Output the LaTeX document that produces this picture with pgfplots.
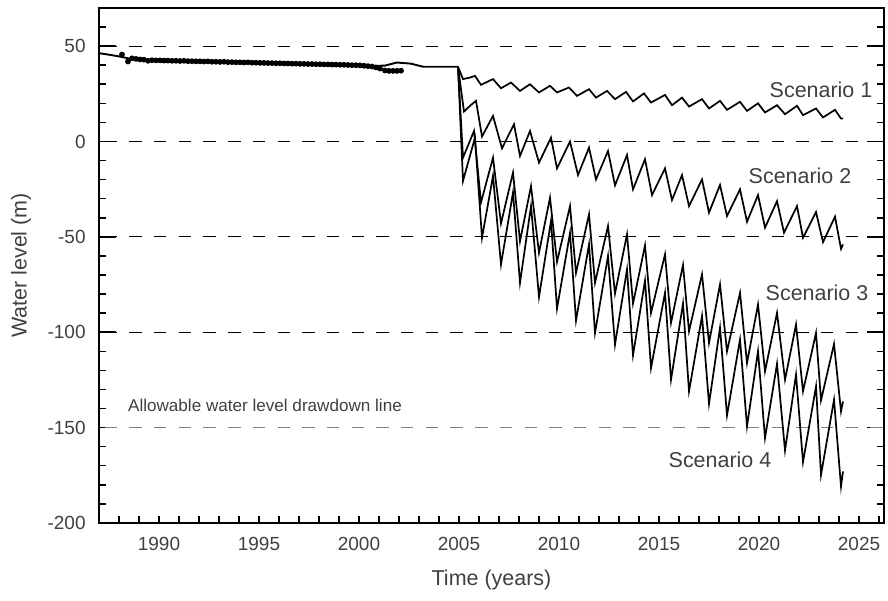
\documentclass[border=0pt]{standalone}
\usepackage{fontspec}
\setmainfont{Liberation Sans}
\usepackage{pgfplots}
\pgfplotsset{compat=1.18}
\definecolor{txt}{gray}{0.25}
\begin{document}
\begin{tikzpicture}
\begin{axis}[name=ax, scale only axis, width=413.2pt, height=271.05pt,
  xmin=1987, xmax=2026.25, ymin=-200, ymax=70,
  axis line style={line width=1pt},
  xtick={1990,1995,...,2025}, minor xtick={1987,...,2026},
  xtick style={/pgfplots/major tick length=3.7pt},
  xtick pos=bottom, ytick pos=both,
  ytick={-200,-150,...,50}, minor ytick={-190,-180,...,60},
  major tick length=9pt, minor tick length=3.7pt,
  every tick/.style={black, line width=0.8pt},
  tick align=inside,
  /pgf/number format/assume math mode=true,
  /pgf/number format/set thousands separator={},
  ticklabel style={font=\fontsize{10}{12}\selectfont, text=txt},
  yticklabel style={xshift=-3.5pt},
  xticklabel style={yshift=-4pt},
  xlabel={Time (years)}, ylabel={Water level (m)},
  label style={font=\fontsize{11.3}{13}\selectfont, text=txt},
  xlabel style={at={(axis description cs:0.5,-0.1107)}, anchor=center},
  ylabel style={at={(axis description cs:-0.0993,0.5)}, anchor=center},
  clip=false,
]
% dashed reference lines
\pgfplotsset{refline/.style={line width=0.6pt, dash pattern=on 6.5pt off 6.5pt, dash phase=10pt, forget plot}}
\addplot[black, refline] coordinates {(1987,50)(2026.25,50)};
\addplot[black, refline] coordinates {(1987,0)(2026.25,0)};
\addplot[black, refline] coordinates {(1987,-50)(2026.25,-50)};
\addplot[black, refline] coordinates {(1987,-100)(2026.25,-100)};
\addplot[gray, refline] coordinates {(1987,-150)(2026.25,-150)};
% historical simulated line
\addplot[black, line width=1pt] coordinates {
(1987,46.3)(1987.5,45.5)(1988,44.6)(1988.5,43.5)(1989,43)(1990,42.6)(1991,42.4)(1992,42.1)
(1993,41.8)(1994,41.5)(1995,41.2)(1996,41)(1997,40.7)(1998,40.5)(1999,40.2)(2000,40)
(2000.8,39.6)(2001.3,39.8)(2001.9,41.4)(2002.6,40.8)(2003.2,39.2)(2004.95,39.2)};
% observed
\addplot[only marks, mark=*, mark size=1.3pt, black] coordinates {
(1988.15,45.6)(1988.45,41.9)(1988.65,43.6)(1988.85,43.3)(1989.05,43.0)(1989.25,42.9)(1989.45,42.3)
(1989.65,42.6)(1989.85,42.5)(1990.05,42.5)(1990.25,42.4)(1990.45,42.4)(1990.65,42.3)(1990.85,42.3)
(1991.05,42.2)(1991.25,42.3)(1991.45,42.1)(1991.65,42.1)(1991.85,42.0)(1992.05,42.0)(1992.25,41.9)
(1992.45,42.0)(1992.65,41.8)(1992.85,41.8)(1993.05,41.7)(1993.25,41.8)(1993.45,41.6)(1993.65,41.6)
(1993.85,41.5)(1994.05,41.5)(1994.25,41.4)(1994.45,41.5)(1994.65,41.3)(1994.85,41.3)(1995.05,41.2)
(1995.25,41.2)(1995.45,41.1)(1995.65,41.1)(1995.85,41.0)(1996.05,41.0)(1996.25,40.9)(1996.45,40.9)
(1996.65,40.8)(1996.85,40.8)(1997.05,40.7)(1997.25,40.7)(1997.45,40.6)(1997.65,40.6)(1997.85,40.5)
(1998.05,40.5)(1998.25,40.4)(1998.45,40.4)(1998.65,40.3)(1998.85,40.3)(1999.05,40.2)(1999.25,40.2)
(1999.45,40.1)(1999.65,40.0)(1999.85,40.0)(2000.05,39.9)(2000.25,39.7)(2000.45,39.5)(2000.65,39.3)
(2000.85,38.8)(2001.05,38.2)(2001.3,37.2)(2001.5,37.0)(2001.7,37.0)(2001.9,37.0)(2002.1,37.1)};
% Scenario 1
\addplot[black, line width=0.9pt] coordinates {
(2004.95,39.2)(2005.2,32.7)(2005.55,33.5)(2005.8,34.4)(2006.1,29.7)(2006.7,32.7)(2007.1,27.9)
(2007.6,30.9)(2008.05,26.5)(2008.55,30)(2009,25.7)(2009.55,29.2)(2009.9,25.7)(2010.5,28.3)
(2010.9,23.9)(2011.5,27.4)(2011.85,23)(2012.4,26.5)(2012.8,22.2)(2013.35,26)(2013.7,21)
(2014.25,25.2)(2014.6,20.4)(2015.3,24.4)(2015.65,19)(2016.15,23)(2016.5,18.3)(2017.15,22.2)
(2017.5,17.3)(2018.05,21.3)(2018.4,16.6)(2019.05,20.8)(2019.4,16)(2019.95,20)(2020.3,15.2)
(2020.9,19)(2021.3,14.3)(2021.9,18.7)(2022.2,13.8)(2022.85,17.3)(2023.2,12.6)(2023.8,16.6)
(2024.1,12)(2024.2,12)};
% Scenario 2
\addplot[black, line width=0.9pt] coordinates {
(2004.95,39.2)(2005.25,15.7)(2005.55,18.7)(2005.85,21.3)(2006.15,2.6)(2006.7,13.4)(2007.15,-3.6)
(2007.75,9)(2008.05,-7.6)(2008.55,5.5)(2009,-11.1)(2009.6,2)(2009.9,-14.1)(2010.55,0)
(2010.95,-17.6)(2011.5,-3.2)(2011.85,-19.9)(2012.45,-5)(2012.8,-23)(2013.4,-7.1)(2013.7,-25.1)
(2014.3,-9.3)(2014.65,-28.1)(2015.3,-14.1)(2015.65,-30.7)(2016.15,-17.6)(2016.5,-33.9)
(2017.15,-19.9)(2017.5,-37.3)(2018.05,-22.8)(2018.4,-39.1)(2019.05,-25.1)(2019.4,-42.1)
(2019.95,-28.1)(2020.3,-45.2)(2020.9,-31.3)(2021.25,-47.8)(2021.9,-33.9)(2022.2,-50.5)
(2022.85,-37)(2023.2,-52.8)(2023.8,-39.4)(2024.1,-56.3)(2024.2,-54)};
% Scenario 3
\addplot[black, line width=0.9pt] coordinates {
(2004.95,39.2)(2005.2,-8.5)(2005.75,5.5)(2006.1,-32)(2006.7,-8.5)(2007.1,-43)(2007.7,-16.3)
(2008.05,-52.3)(2008.6,-23.4)(2009,-58.4)(2009.55,-29.5)(2009.9,-63.1)(2010.55,-33.9)
(2010.85,-68.9)(2011.5,-38.2)(2011.8,-74.1)(2012.45,-44.4)(2012.8,-79.7)(2013.4,-48.7)
(2013.7,-85)(2014.3,-54.5)(2014.6,-89.9)(2015.3,-59.2)(2015.6,-95.1)(2016.2,-64.8)
(2016.5,-99.5)(2017.15,-69.7)(2017.5,-105.6)(2018.05,-75)(2018.4,-110)(2019.05,-79.4)
(2019.4,-116.1)(2019.95,-85.5)(2020.3,-120.5)(2020.9,-89.9)(2021.3,-124.9)(2021.85,-96)
(2022.2,-131)(2022.85,-100.4)(2023.1,-135.7)(2023.75,-106.2)(2024.1,-141.5)(2024.2,-136.3)};
% Scenario 4
\addplot[black, line width=0.9pt] coordinates {
(2004.95,39.2)(2005.2,-20.7)(2005.8,2)(2006.15,-50.5)(2006.7,-18.1)(2007.1,-64.5)(2007.7,-26.8)
(2008.05,-74.1)(2008.6,-33.9)(2009,-81.5)(2009.6,-41.7)(2009.9,-87.6)(2010.55,-48)
(2010.85,-93.9)(2011.5,-54)(2011.8,-100.4)(2012.45,-60.1)(2012.8,-106.5)(2013.4,-67.1)
(2013.7,-112.1)(2014.3,-73)(2014.6,-118.8)(2015.3,-79.4)(2015.6,-124.9)(2016.2,-85)
(2016.5,-131)(2017.15,-91.6)(2017.5,-137.5)(2018.05,-97.7)(2018.4,-143.6)(2019.05,-103.9)
(2019.4,-149.4)(2019.95,-110)(2020.3,-155.5)(2020.9,-116.6)(2021.3,-162)(2021.85,-122.3)
(2022.2,-168.1)(2022.85,-128.4)(2023.1,-174.8)(2023.75,-135.4)(2024.1,-180.9)(2024.2,-173)};
% annotations
\node[text=txt, font=\fontsize{11.3}{13}\selectfont] at (axis cs:2023.1,26.9) {Scenario 1};
\node[text=txt, font=\fontsize{11.3}{13}\selectfont] at (axis cs:2022.05,-17.8) {Scenario 2};
\node[text=txt, font=\fontsize{11.3}{13}\selectfont] at (axis cs:2022.9,-79.2) {Scenario 3};
\node[text=txt, font=\fontsize{11.3}{13}\selectfont] at (axis cs:2018.05,-166.9) {Scenario 4};
\node[text=txt, font=\fontsize{9}{11}\selectfont] at (axis cs:1995.3,-138.6) {Allowable water level drawdown line};
\end{axis}
\pgfresetboundingbox
\useasboundingbox ([shift={(-52.1pt,-41.05pt)}]ax.south west) rectangle ([shift={(2.1pt,4.2pt)}]ax.north east);
\end{tikzpicture}
\end{document}
